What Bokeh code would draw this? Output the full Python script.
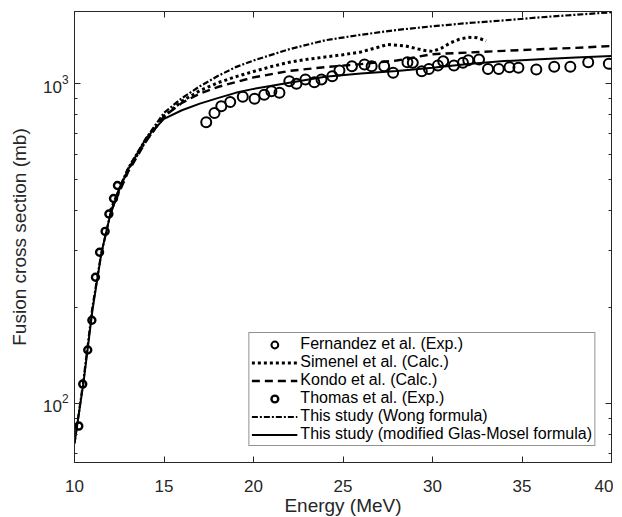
from bokeh.plotting import figure
from bokeh.models import (Legend, LegendItem, FixedTicker, LinearAxis, LogAxis,
                          Range1d)
from bokeh.embed import file_html
from bokeh.resources import INLINE

# ---------------- data ----------------
fern_E = [17.36, 17.82, 18.2, 18.7, 19.4, 20.06, 20.6, 21.0, 21.45, 22.0, 22.4,
          22.9, 23.4, 23.8, 24.4, 24.8, 25.5, 26.2, 26.6, 27.3, 27.8, 28.6, 28.9,
          29.4, 29.8, 30.3, 30.6, 31.2, 31.7, 32.0, 32.6, 33.1, 33.7, 34.3, 34.8,
          35.8, 36.8, 37.7, 38.7, 39.85]
fern_sig = [757, 809, 849, 875, 909, 896, 922, 946, 935, 1017, 998,
            1029, 1009, 1029, 1054, 1098, 1133, 1146, 1133, 1133, 1080, 1165, 1161,
            1092, 1111, 1138, 1174, 1138, 1161, 1183, 1188, 1111, 1111, 1125, 1120,
            1106, 1128, 1128, 1165, 1152]

thomas_E = [10.24, 10.46, 10.74, 10.97, 11.17, 11.4, 11.71, 11.92, 12.18, 12.4]
thomas_sig = [85, 115, 147, 182, 248, 297, 345, 391, 437, 480]

simenel_E = [12, 13, 14, 15, 16, 17, 18, 19, 20, 21, 22, 23, 24, 25, 26, 27,
             27.5, 28.5, 29.5, 30, 30.5, 31, 31.5, 32, 32.5, 33]
simenel_sig = [400, 540, 665, 790, 880, 950, 1005, 1050, 1090, 1130, 1165, 1190,
               1210, 1230, 1255, 1300, 1325, 1310, 1270, 1260, 1290, 1340, 1375,
               1395, 1390, 1360]

kondo_E = [12, 13, 14, 15, 16, 17, 18, 19, 20, 22, 24, 26, 28, 30, 32, 34, 36, 38, 40]
kondo_sig = [395, 530, 660, 790, 870, 930, 975, 1010, 1045, 1095, 1125, 1150,
             1180, 1235, 1250, 1265, 1280, 1292, 1310]

wong_E = [10, 10.5, 11, 11.5, 12, 12.5, 13, 14, 15, 16, 17, 18, 19, 20, 22, 24,
          26, 28, 30, 32, 34, 36, 38, 40]
wong_sig = [75, 118, 200, 295, 390, 470, 545, 675, 810, 900, 980, 1055, 1125,
            1180, 1280, 1365, 1420, 1470, 1510, 1545, 1575, 1610, 1640, 1670]

gm_E = [10, 10.5, 11, 11.5, 12, 12.5, 13, 14, 15, 16, 17, 18, 19, 20, 22, 24,
        26, 28, 30, 32, 34, 36, 38, 40]
gm_sig = [75, 116, 195, 295, 390, 465, 540, 675, 775, 825, 865, 900, 935, 962,
          1005, 1050, 1075, 1095, 1120, 1150, 1175, 1190, 1205, 1220]

x_ticks = [10, 15, 20, 25, 30, 35, 40]
y_ticks = [100, 1000]
y_minor = [70, 80, 90, 200, 300, 400, 500, 600, 700, 800, 900]

legend_labels = ["Fernandez et al. (Exp.)", "Simenel et al. (Calc.)",
                 "Kondo et al. (Calc.)", "Thomas et al. (Exp.)",
                 "This study (Wong formula)",
                 "This study (modified Glas-Mosel formula)"]

# ---------------- figure ----------------
FONT = "Liberation Sans"
AX = "#262626"

p = figure(frame_width=537, frame_height=451,
           x_range=Range1d(10, 40), y_range=Range1d(65.4, 1679),
           y_axis_type="log", output_backend="svg", toolbar_location=None,
           min_border_left=74, min_border_right=2, min_border_top=11,
           min_border_bottom=40, background_fill_color="white",
           border_fill_color="white")
p.grid.visible = False
p.outline_line_color = AX
p.outline_line_width = 1

xt = FixedTicker(ticks=x_ticks, minor_ticks=[])
yt = FixedTicker(ticks=y_ticks, minor_ticks=y_minor)

for ax in (p.xaxis[0], p.yaxis[0]):
    ax.major_tick_in = 6
    ax.major_tick_out = 0
    ax.minor_tick_in = 3
    ax.minor_tick_out = 0
    ax.axis_line_color = AX
    ax.major_tick_line_color = AX
    ax.minor_tick_line_color = AX
    ax.major_label_text_font = FONT
    ax.major_label_text_font_size = "17px"
    ax.major_label_text_color = AX
    ax.axis_label_text_font = FONT
    ax.axis_label_text_font_size = "19px"
    ax.axis_label_text_font_style = "normal"
    ax.axis_label_text_color = AX

p.xaxis[0].ticker = xt
p.yaxis[0].ticker = yt
p.xaxis[0].axis_label = "Energy (MeV)"
p.yaxis[0].axis_label = "Fusion cross section (mb)"
p.xaxis[0].major_label_standoff = 17
p.xaxis[0].axis_label_standoff = 0
p.yaxis[0].major_label_standoff = 6
p.yaxis[0].axis_label_standoff = 10

# mirrored ticks on top and right (labels invisible)
top = LinearAxis(ticker=FixedTicker(ticks=x_ticks, minor_ticks=[]),
                 major_label_text_font_size="1px", major_label_text_alpha=0,
                 major_tick_in=6, major_tick_out=0, minor_tick_in=0,
                 minor_tick_out=0, axis_line_color=AX,
                 major_tick_line_color=AX, major_label_standoff=0)
right = LogAxis(ticker=FixedTicker(ticks=y_ticks, minor_ticks=y_minor),
                major_label_text_font_size="1px", major_label_text_alpha=0,
                major_tick_in=6, major_tick_out=0, minor_tick_in=3,
                minor_tick_out=0, axis_line_color=AX,
                major_tick_line_color=AX, minor_tick_line_color=AX,
                major_label_standoff=0)
p.add_layout(top, "above")
p.add_layout(right, "right")

# ---------------- glyphs ----------------
r_wong = p.line(wong_E, wong_sig, line_color="black", line_width=2.2,
                line_dash="6 2 2 2")
r_kondo = p.line(kondo_E, kondo_sig, line_color="black", line_width=2.4,
                 line_dash="8 5")
r_sim = p.line(simenel_E, simenel_sig, line_color="black", line_width=3,
               line_dash="3 3")
r_gm = p.line(gm_E, gm_sig, line_color="black", line_width=2)
r_fern = p.scatter(fern_E, fern_sig, marker="circle", size=10,
                   fill_color="white", fill_alpha=0, line_color="black",
                   line_width=2)
r_thom = p.scatter(thomas_E, thomas_sig, marker="circle", size=7,
                   fill_color="white", fill_alpha=0, line_color="black",
                   line_width=2.4)

items = [LegendItem(label=legend_labels[0], renderers=[r_fern]),
         LegendItem(label=legend_labels[1], renderers=[r_sim]),
         LegendItem(label=legend_labels[2], renderers=[r_kondo]),
         LegendItem(label=legend_labels[3], renderers=[r_thom]),
         LegendItem(label=legend_labels[4], renderers=[r_wong]),
         LegendItem(label=legend_labels[5], renderers=[r_gm])]
leg = Legend(items=items, location="bottom_right",
             label_text_font=FONT, label_text_font_size="16px",
             label_text_color="black", glyph_width=46, glyph_height=17,
             label_height=17, label_standoff=3, spacing=0, padding=2,
             margin=16, border_line_color=AX, border_line_width=1,
             background_fill_color="white", background_fill_alpha=1)
p.add_layout(leg, "center")

open("out.html", "w").write(file_html(p, INLINE))
